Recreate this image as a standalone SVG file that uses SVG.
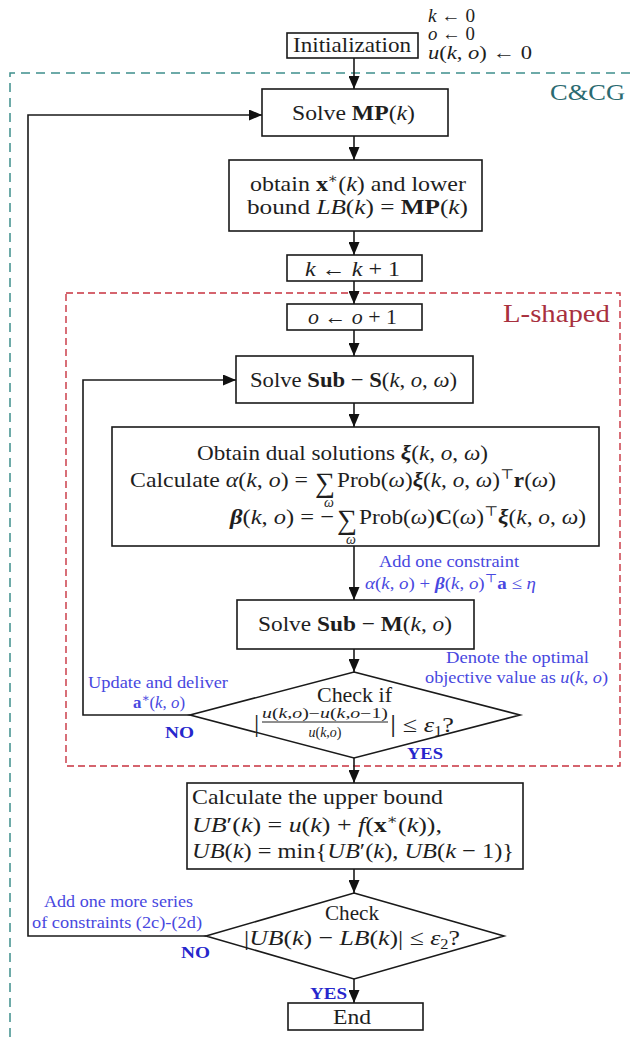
<svg xmlns="http://www.w3.org/2000/svg" width="631" height="1037" viewBox="0 0 631 1037">
  <defs>
    <marker id="ah" viewBox="0 0 13 11" refX="13" refY="5.5" markerWidth="13" markerHeight="11" markerUnits="userSpaceOnUse" orient="auto">
      <path d="M0,0 L13,5.5 L0,11 z" fill="#111"/>
    </marker>
    <style>
      .bx{fill:#fff;stroke:#1a1a1a;stroke-width:1.6}
      .cn{fill:none;stroke:#1a1a1a;stroke-width:1.6}
      text{font-family:"Liberation Serif","DejaVu Serif",serif;fill:#1e1e1e;font-size:22px}
      .i{font-style:italic}
      .b{font-weight:bold}
      .bi{font-weight:bold;font-style:italic}
      .sm{font-size:14px}
      .bl{font-size:17px;fill:#4848e0}
      .yn{font-size:17px;font-weight:bold;fill:#2626cc}
      .teal{fill:none;stroke:#3e8e8c;stroke-width:1.5;stroke-dasharray:9 6}
      .red{fill:none;stroke:#c8323f;stroke-width:1.4;stroke-dasharray:7 4}
    </style>
  </defs>
  <rect width="631" height="1037" fill="#fff"/>

  <!-- loop regions -->
  <g id="regions">
    <path class="teal" d="M10,1037 V73 H631"/>
    <text x="550" y="100" textLength="75" lengthAdjust="spacingAndGlyphs" style="fill:#2a6a70;font-size:24px">C&amp;CG</text>
    <rect class="red" x="66" y="293" width="554" height="473"/>
    <text x="503" y="322" textLength="107" lengthAdjust="spacingAndGlyphs" style="fill:#a8303e;font-size:26px">L-shaped</text>
  </g>

  <!-- connectors -->
  <g id="connectors" class="cn" marker-end="url(#ah)">
    <path d="M354,58 V89"/>
    <path d="M354,136 V160"/>
    <path d="M354,231 V255"/>
    <path d="M354,281 V304"/>
    <path d="M354,330 V356"/>
    <path d="M354,403 V427"/>
    <path d="M354,546 V600"/>
    <path d="M354,649 V672"/>
    <path d="M354,758 V783"/>
    <path d="M354,869 V893"/>
    <path d="M354,979 V1003"/>
    <path d="M190,715 H83 V380 H236"/>
    <path d="M206,936 H28 V115 H262"/>
  </g>

  <g id="init">
    <rect class="bx" x="287" y="33" width="131" height="25"/>
    <text x="293" y="52" textLength="118" lengthAdjust="spacingAndGlyphs">Initialization</text>
    <text x="428" y="22" textLength="47" lengthAdjust="spacingAndGlyphs" style="font-size:19px"><tspan class="i">k</tspan> ← 0</text>
    <text x="428" y="40" textLength="47" lengthAdjust="spacingAndGlyphs" style="font-size:19px"><tspan class="i">o</tspan> ← 0</text>
    <text x="428" y="59" textLength="104" lengthAdjust="spacingAndGlyphs" style="font-size:19px"><tspan class="i">u</tspan>(<tspan class="i">k</tspan>, <tspan class="i">o</tspan>) ← 0</text>
  </g>

  <g id="solve-mp">
    <rect class="bx" x="262" y="89" width="186" height="47"/>
    <text x="292" y="120" textLength="123" lengthAdjust="spacingAndGlyphs">Solve <tspan class="b">MP</tspan>(<tspan class="i">k</tspan>)</text>
  </g>

  <g id="lower-bound">
    <rect class="bx" x="229" y="160" width="253" height="71"/>
    <text x="250" y="191" textLength="216" lengthAdjust="spacingAndGlyphs">obtain <tspan class="b">x</tspan><tspan class="sm" dy="-8">∗</tspan><tspan dy="8">(</tspan><tspan class="i">k</tspan>) and lower</text>
    <text x="247" y="214" textLength="221" lengthAdjust="spacingAndGlyphs">bound <tspan class="i">LB</tspan>(<tspan class="i">k</tspan>) = <tspan class="b">MP</tspan>(<tspan class="i">k</tspan>)</text>
  </g>

  <g id="k-inc">
    <rect class="bx" x="287" y="255" width="135" height="26"/>
    <text x="305" y="276" textLength="95" lengthAdjust="spacingAndGlyphs"><tspan class="i">k</tspan> ← <tspan class="i">k</tspan> + 1</text>
  </g>

  <g id="o-inc">
    <rect class="bx" x="287" y="304" width="135" height="26"/>
    <text x="308" y="324" textLength="89" lengthAdjust="spacingAndGlyphs"><tspan class="i">o</tspan> ← <tspan class="i">o</tspan> + 1</text>
  </g>

  <g id="solve-sub-s">
    <rect class="bx" x="236" y="356" width="237" height="47"/>
    <text x="250" y="387" textLength="207" lengthAdjust="spacingAndGlyphs">Solve <tspan class="b">Sub</tspan> − <tspan class="b">S</tspan>(<tspan class="i">k</tspan>, <tspan class="i">o</tspan>, <tspan class="i">ω</tspan>)</text>
  </g>

  <g id="dual">
    <rect class="bx" x="112" y="427" width="487" height="119"/>
    <text x="197" y="460" textLength="291" lengthAdjust="spacingAndGlyphs">Obtain dual solutions <tspan class="bi">ξ</tspan>(<tspan class="i">k</tspan>, <tspan class="i">o</tspan>, <tspan class="i">ω</tspan>)</text>
    <text x="130" y="487" textLength="178" lengthAdjust="spacingAndGlyphs">Calculate <tspan class="i">α</tspan>(<tspan class="i">k</tspan>, <tspan class="i">o</tspan>) =</text>
    <text x="315" y="492" style="font-size:28px">∑</text>
    <text x="329" y="507" text-anchor="middle" class="i sm">ω</text>
    <text x="337" y="487" textLength="219" lengthAdjust="spacingAndGlyphs">Prob(<tspan class="i">ω</tspan>)<tspan class="bi">ξ</tspan>(<tspan class="i">k</tspan>, <tspan class="i">o</tspan>, <tspan class="i">ω</tspan>)<tspan class="sm" dy="-8">⊤</tspan><tspan class="b" dy="8">r</tspan>(<tspan class="i">ω</tspan>)</text>
    <text x="230" y="524" textLength="104" lengthAdjust="spacingAndGlyphs"><tspan class="bi">β</tspan>(<tspan class="i">k</tspan>, <tspan class="i">o</tspan>) = −</text>
    <text x="337" y="529" style="font-size:28px">∑</text>
    <text x="351" y="544" text-anchor="middle" class="i sm">ω</text>
    <text x="359" y="524" textLength="227" lengthAdjust="spacingAndGlyphs">Prob(<tspan class="i">ω</tspan>)<tspan class="b">C</tspan>(<tspan class="i">ω</tspan>)<tspan class="sm" dy="-8">⊤</tspan><tspan class="bi" dy="8">ξ</tspan>(<tspan class="i">k</tspan>, <tspan class="i">o</tspan>, <tspan class="i">ω</tspan>)</text>
    <text x="379" y="567" textLength="140" lengthAdjust="spacingAndGlyphs" class="bl">Add one constraint</text>
    <text x="365" y="589" textLength="171" lengthAdjust="spacingAndGlyphs" class="bl"><tspan class="i">α</tspan>(<tspan class="i">k</tspan>, <tspan class="i">o</tspan>) + <tspan class="bi">β</tspan>(<tspan class="i">k</tspan>, <tspan class="i">o</tspan>)<tspan style="font-size:12px" dy="-7">⊤</tspan><tspan class="b" dy="7">a</tspan> ≤ <tspan class="i">η</tspan></text>
  </g>

  <g id="solve-sub-m">
    <rect class="bx" x="237" y="600" width="237" height="49"/>
    <text x="258" y="631" textLength="194" lengthAdjust="spacingAndGlyphs">Solve <tspan class="b">Sub</tspan> − <tspan class="b">M</tspan>(<tspan class="i">k</tspan>, <tspan class="i">o</tspan>)</text>
    <text x="446" y="663" textLength="143" lengthAdjust="spacingAndGlyphs" class="bl">Denote the optimal</text>
    <text x="425" y="683" textLength="183" lengthAdjust="spacingAndGlyphs" class="bl">objective value as <tspan class="i">u</tspan>(<tspan class="i">k</tspan>, <tspan class="i">o</tspan>)</text>
  </g>

  <g id="check-1">
    <polygon class="bx" points="354,672 520,715 354,758 190,715"/>
    <text x="317" y="702" textLength="75" lengthAdjust="spacingAndGlyphs">Check if</text>
    <text x="254" y="732" style="font-size:26px">|</text>
    <text x="262" y="718" textLength="126" lengthAdjust="spacingAndGlyphs" class="sm"><tspan class="i">u</tspan>(<tspan class="i">k</tspan>,<tspan class="i">o</tspan>)−<tspan class="i">u</tspan>(<tspan class="i">k</tspan>,<tspan class="i">o</tspan>−1)</text>
    <line x1="262" y1="722" x2="388" y2="722" stroke="#1e1e1e" stroke-width="1"/>
    <text x="325" y="737" text-anchor="middle" class="sm"><tspan class="i">u</tspan>(<tspan class="i">k</tspan>,<tspan class="i">o</tspan>)</text>
    <text x="390" y="732" textLength="64" lengthAdjust="spacingAndGlyphs"><tspan style="font-size:26px">|</tspan> ≤ <tspan class="i">ε</tspan><tspan class="sm" dy="4">1</tspan><tspan dy="-4">?</tspan></text>
    <text x="88" y="688" textLength="140" lengthAdjust="spacingAndGlyphs" class="bl">Update and deliver</text>
    <text x="133" y="708" textLength="52" lengthAdjust="spacingAndGlyphs" class="bl"><tspan class="b">a</tspan><tspan style="font-size:12px" dy="-6">∗</tspan><tspan dy="6">(</tspan><tspan class="i">k</tspan>, <tspan class="i">o</tspan>)</text>
    <text x="165" y="738" textLength="29" lengthAdjust="spacingAndGlyphs" class="yn">NO</text>
    <text x="407" y="759" textLength="36" lengthAdjust="spacingAndGlyphs" class="yn">YES</text>
  </g>

  <g id="upper-bound">
    <rect class="bx" x="187" y="783" width="336" height="86"/>
    <text x="192" y="804" textLength="251" lengthAdjust="spacingAndGlyphs">Calculate the upper bound</text>
    <text x="192" y="832" textLength="250" lengthAdjust="spacingAndGlyphs"><tspan class="i">UB</tspan>′(<tspan class="i">k</tspan>) = <tspan class="i">u</tspan>(<tspan class="i">k</tspan>) + <tspan class="i">f</tspan>(<tspan class="b">x</tspan><tspan class="sm" dy="-8">∗</tspan><tspan dy="8">(</tspan><tspan class="i">k</tspan>)),</text>
    <text x="192" y="858" textLength="322" lengthAdjust="spacingAndGlyphs"><tspan class="i">UB</tspan>(<tspan class="i">k</tspan>) = min{<tspan class="i">UB</tspan>′(<tspan class="i">k</tspan>), <tspan class="i">UB</tspan>(<tspan class="i">k</tspan> − 1)}</text>
  </g>

  <g id="check-2">
    <polygon class="bx" points="354,893 504,936 354,979 206,936"/>
    <text x="325" y="920" textLength="54" lengthAdjust="spacingAndGlyphs">Check</text>
    <text x="244" y="945" textLength="216" lengthAdjust="spacingAndGlyphs">|<tspan class="i">UB</tspan>(<tspan class="i">k</tspan>) − <tspan class="i">LB</tspan>(<tspan class="i">k</tspan>)| ≤ <tspan class="i">ε</tspan><tspan class="sm" dy="4">2</tspan><tspan dy="-4">?</tspan></text>
    <text x="44" y="907" textLength="149" lengthAdjust="spacingAndGlyphs" class="bl">Add one more series</text>
    <text x="32" y="928" textLength="170" lengthAdjust="spacingAndGlyphs" class="bl">of constraints (2c)-(2d)</text>
    <text x="181" y="958" textLength="29" lengthAdjust="spacingAndGlyphs" class="yn">NO</text>
    <text x="310" y="999" textLength="37" lengthAdjust="spacingAndGlyphs" class="yn">YES</text>
  </g>

  <g id="end">
    <rect class="bx" x="288" y="1003" width="135" height="27"/>
    <text x="333" y="1024" textLength="38" lengthAdjust="spacingAndGlyphs">End</text>
  </g>
</svg>
